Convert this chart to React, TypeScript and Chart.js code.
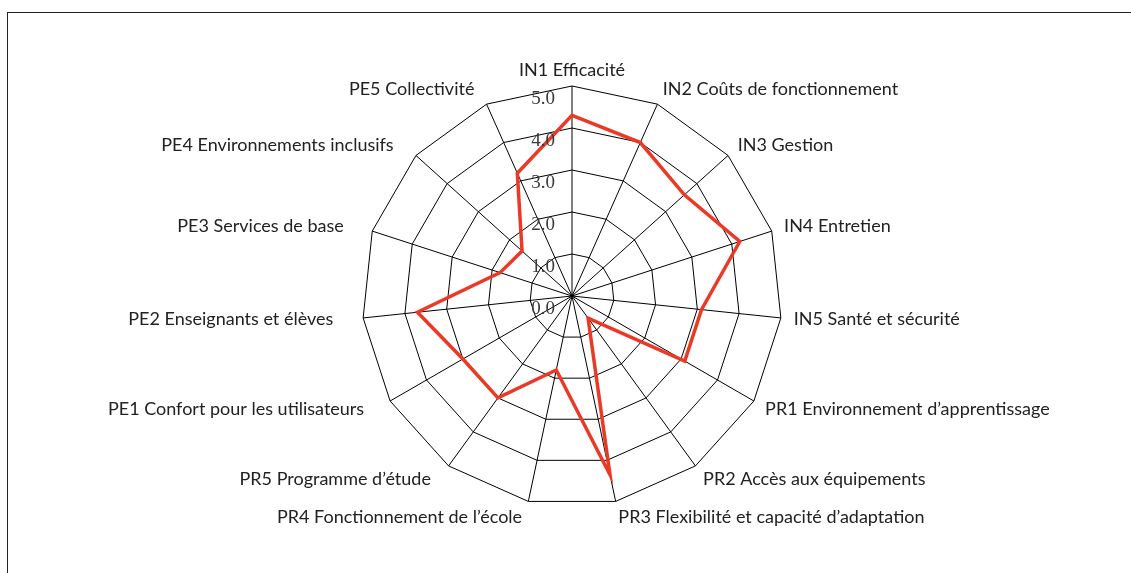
import React, { useEffect, useRef } from "react";
import { Chart, registerables } from "chart.js";

Chart.register(...registerables);

const categories: string[] = [
  "IN1 Efficacité",
  "IN2 Coûts de fonctionnement",
  "IN3 Gestion",
  "IN4 Entretien",
  "IN5 Santé et sécurité",
  "PR1 Environnement d’apprentissage",
  "PR2 Accès aux équipements",
  "PR3 Flexibilité et capacité d’adaptation",
  "PR4 Fonctionnement de l’école",
  "PR5 Programme d’étude",
  "PE1 Confort pour les utilisateurs",
  "PE2 Enseignants et élèves",
  "PE3 Services de base",
  "PE4 Environnements inclusifs",
  "PE5 Collectivité",
];

const scores: number[] = [4.3, 4.0, 3.6, 4.2, 3.1, 3.1, 0.65, 4.35, 1.8, 3.0, 3.0, 3.7, 1.8, 1.6, 3.2];

const tickValues: number[] = [0, 1, 2, 3, 4, 5];
const tickLabels: string[] = ["0.0", "1.0", "2.0", "3.0", "4.0", "5.0"];

const labelPlugin = {
  id: "customLabels",
  afterDraw(chart: any) {
    const scale = chart.scales.r;
    const ctx = chart.ctx;
    const R = scale.drawingArea;
    ctx.save();
    // category labels
    ctx.font = "18px Lato";
    ctx.fillStyle = "#222222";
    ctx.textBaseline = "middle";
    categories.forEach((lab, i) => {
      const a = scale.getIndexAngle(i);
      const s = Math.sin(a);
      let align: CanvasTextAlign = "center";
      let pad = 16;
      if (s > 0.1) {
        align = "left";
        pad = 13;
      } else if (s < -0.1) {
        align = "right";
        pad = 30;
      }
      const px = scale.getPointPosition(i, R + pad).x;
      const py = scale.getPointPosition(i, R + 16).y;
      ctx.textAlign = align;
      ctx.fillText(lab, px, py);
    });
    // tick labels
    ctx.font = "19px 'Liberation Serif'";
    ctx.fillStyle = "#3a3a3a";
    ctx.textAlign = "right";
    tickValues.forEach((v, i) => {
      const p = scale.getPointPositionForValue(0, v);
      ctx.fillText(tickLabels[i], scale.xCenter - 17, p.y + 13);
    });
    ctx.restore();
  },
};

export default function App() {
  const ref = useRef<HTMLCanvasElement | null>(null);

  useEffect(() => {
    if (!ref.current) return;
    const chart = new Chart(ref.current, {
      type: "radar",
      data: {
        labels: categories,
        datasets: [
          {
            data: scores,
            borderColor: "#ea3a26",
            borderWidth: 3.5,
            backgroundColor: "rgba(0,0,0,0)",
            fill: false,
            pointRadius: 0,
            pointHoverRadius: 0,
            tension: 0,
          },
        ],
      },
      options: {
        responsive: false,
        animation: false,
        layout: { padding: { top: 86, bottom: 67, left: 13, right: 0 } },
        plugins: {
          legend: { display: false },
          tooltip: { enabled: false },
        },
        scales: {
          r: {
            min: 0,
            max: 5,
            beginAtZero: true,
            ticks: { display: false, stepSize: 1 },
            pointLabels: { display: false },
            grid: { color: "#000000", lineWidth: 1, circular: false },
            angleLines: { color: "#000000", lineWidth: 1 },
          },
        },
      },
      plugins: [labelPlugin],
    });
    return () => chart.destroy();
  }, []);

  return (
    <div
      style={{
        position: "absolute",
        left: 0,
        top: 0,
        width: 1131,
        height: 573,
        overflow: "hidden",
        background: "#ffffff",
      }}
    >
      <div
        style={{
          position: "absolute",
          left: 7,
          top: 12,
          width: 2000,
          height: 2000,
          border: "1px solid #222222",
        }}
      />
      <canvas
        ref={ref}
        width={1131}
        height={573}
        style={{ position: "absolute", left: 0, top: 0, width: 1131, height: 573 }}
      />
    </div>
  );
}
